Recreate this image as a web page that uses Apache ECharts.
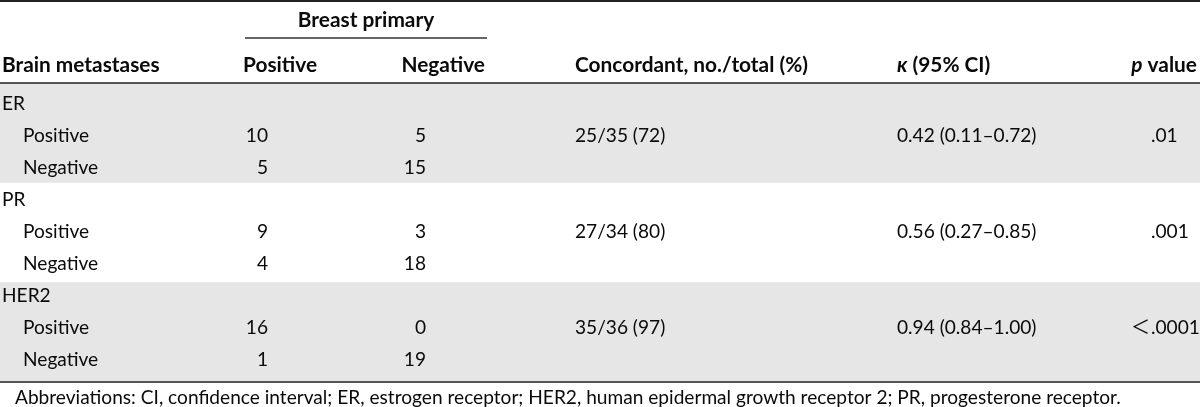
<!DOCTYPE html>
<html><head><meta charset="utf-8">
<script src="https://cdn.jsdelivr.net/npm/echarts@6/dist/echarts.min.js"></script>
<style>html,body{margin:0;padding:0;background:#fff}#c{width:1200px;height:407px}</style>
</head><body><div id="c"></div><script>
// ---- data ----
const groups = ['ER', 'PR', 'HER2'];
const brainStatus = ['Positive', 'Negative'];
const primaryPositive = [10, 5, 9, 4, 16, 1];
const primaryNegative = [5, 15, 3, 18, 0, 19];
const concordant = ['25/35 (72)', '27/34 (80)', '35/36 (97)'];
const kappa = ['0.42 (0.11–0.72)', '0.56 (0.27–0.85)', '0.94 (0.84–1.00)'];
const pValues = ['.01', '.001', '＜.0001'];
const spanHeader = 'Breast primary';
const columnHeaders = ['Brain metastases', 'Positive', 'Negative', 'Concordant, no./total (%)', '{i|κ} (95% CI)', '{i|p} value'];
const footnote = 'Abbreviations: CI, confidence interval; ER, estrogen receptor; HER2, human epidermal growth receptor 2; PR, progesterone receptor.';

// ---- layout ----
const FF = 'Lato, "Noto Sans CJK SC", sans-serif';
const TXT = '#0a0a0a';
const mctx = document.createElement('canvas').getContext('2d');
function fitSize(text, weight, target) { mctx.font = weight + ' 100px ' + FF; return 100 * target / mctx.measureText(text).width; }
const FS = (fitSize(footnote, 'normal', 1042) + fitSize(kappa[0], 'normal', 145) + fitSize(concordant[0], 'normal', 92)) / 3;
const FSB = fitSize(columnHeaders[3], 'bold', 233);

const colX = { label: 2, indent: 23, pos: 268, neg: 426, conc: 575, kappa: 897, pdot: 1151 };
const headX = [[2, 'left'], [243, 'left'], [485, 'right'], [575, 'left'], [897, 'left'], [1197, 'right']];
const rowY = i => 0.62 + 0.965 * i;   // text centre of body row i, in row units

// body cells (row positions through the y axis)
const bodyCells = [];
groups.forEach((g, gi) => {
  const r0 = gi * 3;
  bodyCells.push({ x: colX.label, y: rowY(r0), text: g, align: 'left' });
  brainStatus.forEach((s, si) => {
    const r = r0 + 1 + si, k = gi * 2 + si;
    bodyCells.push({ x: colX.indent, y: rowY(r), text: s, align: 'left' });
    bodyCells.push({ x: colX.pos, y: rowY(r), text: String(primaryPositive[k]), align: 'right' });
    bodyCells.push({ x: colX.neg, y: rowY(r), text: String(primaryNegative[k]), align: 'right' });
  });
  bodyCells.push({ x: colX.conc, y: rowY(r0 + 1), text: concordant[gi], align: 'left' });
  bodyCells.push({ x: colX.kappa, y: rowY(r0 + 1), text: kappa[gi], align: 'left' });
  const dot = pValues[gi].indexOf('.');
  if (dot > 0) bodyCells.push({ x: colX.pdot - 1, y: rowY(r0 + 1), text: pValues[gi].slice(0, dot), align: 'right' });
  bodyCells.push({ x: colX.pdot, y: rowY(r0 + 1), text: pValues[gi].slice(dot), align: 'left' });
});

const headCells = [{ x: 366, y: 20, text: spanHeader, align: 'center' }];
columnHeaders.forEach((h, i) => headCells.push({ x: headX[i][0], y: 65, text: h, align: headX[i][1] }));

function textRenderer(cells, bold) {
  const size = bold ? FSB : FS;
  return function (params, api) {
    const c = cells[params.dataIndex];
    const p = api.coord([c.x, c.y]);
    return {
      type: 'text', x: p[0], y: p[1],
      style: {
        text: c.text, fill: TXT,
        font: (bold ? 'bold ' : '') + size.toFixed(2) + 'px ' + FF,
        textAlign: c.align, textVerticalAlign: 'middle',
        rich: { i: { fontStyle: 'italic', fontWeight: 'bold', fontSize: size, fontFamily: FF, fill: TXT, textFill: TXT } }
      }
    };
  };
}

const hiddenAxis = { show: true, axisLabel: { show: false }, axisTick: { show: false }, splitLine: { show: false } };
const LH = Math.round(FS * 1.2);

const option = {
  animation: false,
  backgroundColor: '#fff',
  title: { text: footnote, left: 15, top: 398 - LH / 2, padding: 0, textStyle: { fontSize: FS, lineHeight: LH, fontWeight: 'normal', fontFamily: FF, color: TXT } },
  grid: [
    { left: 0, right: 0, top: 1, height: 82 },
    { left: 0, right: 0, top: 83, bottom: 25 }
  ],
  xAxis: [
    Object.assign({ gridIndex: 0, type: 'value', min: 0, max: 1200, position: 'top', z: 10, axisLine: { show: true, lineStyle: { color: '#222', width: 2 } } }, hiddenAxis),
    Object.assign({ gridIndex: 1, type: 'value', min: 0, max: 1200, position: 'top', z: 10, axisLine: { show: true, lineStyle: { color: '#222', width: 1.5 } } }, hiddenAxis),
    Object.assign({ gridIndex: 1, type: 'value', min: 0, max: 1200, position: 'bottom', z: 10, axisLine: { show: true, lineStyle: { color: '#555', width: 2 } } }, hiddenAxis)
  ],
  yAxis: [
    { gridIndex: 0, type: 'value', min: 1, max: 83, inverse: true, show: false },
    { gridIndex: 1, type: 'value', min: 0, max: 9, inverse: true, show: false }
  ],
  series: [
    {
      type: 'custom', xAxisIndex: 1, yAxisIndex: 1, z: 1, silent: true,
      data: groups.map((g, i) => [i]).filter(d => d[0] % 2 === 0),
      renderItem: function (params, api) {
        const g = api.value(0);
        const a = api.coord([0, g * 3]), b = api.coord([1200, g * 3 + 3]);
        return { type: 'rect', shape: { x: a[0], y: a[1], width: b[0] - a[0], height: b[1] - a[1] }, style: { fill: '#e6e6e6' } };
      }
    },
    {
      type: 'custom', xAxisIndex: 0, yAxisIndex: 0, z: 3, silent: true, clip: false,
      data: [[245, 38, 487]],
      renderItem: function (params, api) {
        const a = api.coord([api.value(0), api.value(1)]), b = api.coord([api.value(2), api.value(1)]);
        return { type: 'line', shape: { x1: a[0], y1: a[1], x2: b[0], y2: b[1] }, style: { stroke: '#333', lineWidth: 1.5 } };
      }
    },
    {
      type: 'custom', xAxisIndex: 0, yAxisIndex: 0, z: 4, silent: true, clip: false,
      data: headCells.map(c => [c.x, c.y]),
      renderItem: textRenderer(headCells, true)
    },
    {
      type: 'custom', xAxisIndex: 1, yAxisIndex: 1, z: 4, silent: true, clip: false,
      data: bodyCells.map(c => [c.x, c.y]),
      renderItem: textRenderer(bodyCells, false)
    }
  ]
};
echarts.init(document.getElementById('c'), null, { renderer: 'canvas' }).setOption(option);
</script></body></html>
